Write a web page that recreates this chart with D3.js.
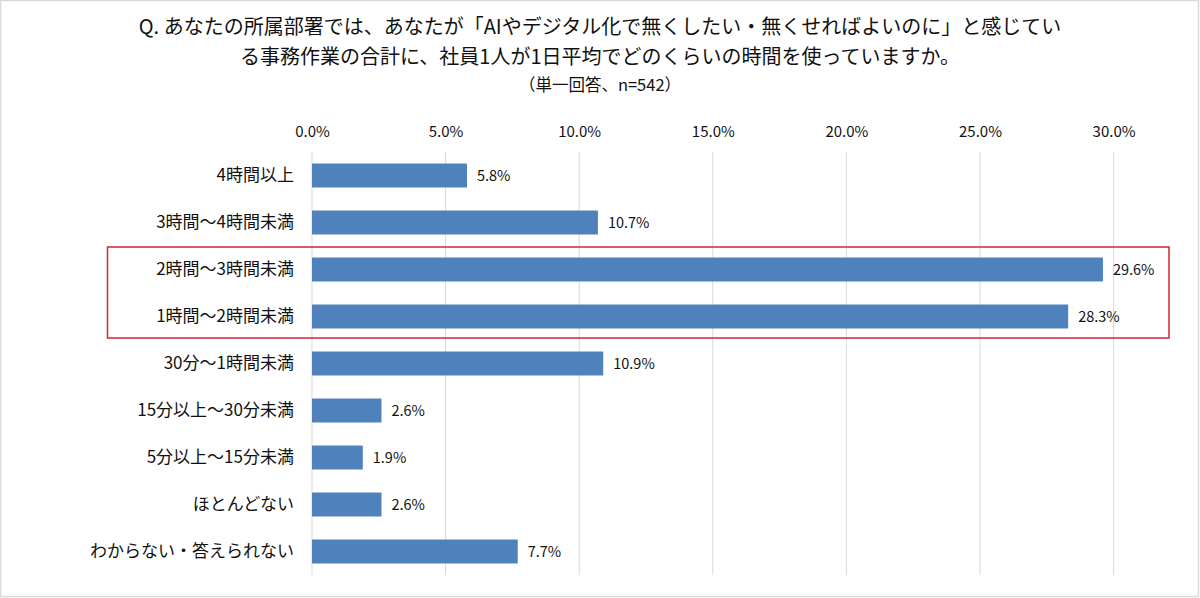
<!DOCTYPE html>
<html><head><meta charset="utf-8">
<script src="https://cdn.jsdelivr.net/npm/d3@7"></script>
<style>
html,body{margin:0;padding:0;background:#fff;}
svg{display:block;font-family:"Noto Sans CJK JP","Noto Sans",sans-serif;}
</style></head>
<body>
<svg id="c" width="1200" height="598"></svg>
<script>
const categories = ["4時間以上","3時間〜4時間未満","2時間〜3時間未満","1時間〜2時間未満","30分〜1時間未満","15分以上〜30分未満","5分以上〜15分未満","ほとんどない","わからない・答えられない"];
const values = [5.8, 10.7, 29.6, 28.3, 10.9, 2.6, 1.9, 2.6, 7.7];
const ticks = [0, 5, 10, 15, 20, 25, 30];
const titleLines = ["Q. あなたの所属部署では、あなたが「AIやデジタル化で無くしたい・無くせればよいのに」と感じてい","る事務作業の合計に、社員1人が1日平均でどのくらいの時間を使っていますか。"];
const subtitle = "（単一回答、n=542）";
const highlighted = ["2時間〜3時間未満","1時間〜2時間未満"];

const svg = d3.select("#c");
svg.append("rect").attr("x",0.5).attr("y",0.5).attr("width",1198).attr("height",596)
  .attr("fill","#fff").attr("stroke","#d9d9d9").attr("stroke-width",1.5);

const x = d3.scaleLinear().domain([0,30]).range([312,1113.6]);
const y = d3.scaleBand().domain(categories).range([152,575]).paddingInner(0.49).paddingOuter(0.245);

// title
svg.selectAll("text.title").data(titleLines).join("text").attr("class","title")
  .attr("x",600).attr("y",(d,i)=>34+i*30).attr("text-anchor","middle")
  .attr("font-size",20).attr("fill","#111").text(d=>d);
svg.append("text").attr("x",600).attr("y",91).attr("text-anchor","middle")
  .attr("font-size",16.5).attr("fill","#111").text(subtitle);

// gridlines
svg.append("g").selectAll("line").data(ticks).join("line")
  .attr("x1",d=>x(d)).attr("x2",d=>x(d)).attr("y1",152).attr("y2",575)
  .attr("stroke","#d9d9d9").attr("stroke-width",1);

// top axis labels
const ax = d3.axisTop(x).tickValues(ticks).tickFormat(d=>d.toFixed(1)+"%").tickSize(0).tickPadding(0);
const axg = svg.append("g").attr("transform","translate(0,137)").call(ax);
axg.select(".domain").remove();
axg.selectAll("text").attr("font-size",15).attr("fill","#111").attr("font-family","\"Noto Sans CJK JP\",sans-serif");

// category labels
const ay = d3.axisLeft(y).tickSize(0).tickPadding(0);
const ayg = svg.append("g").attr("transform","translate(294,0)").call(ay);
ayg.select(".domain").remove();
ayg.selectAll("text").attr("font-size",17).attr("fill","#111").attr("font-family","\"Noto Sans CJK JP\",sans-serif");

// bars
svg.append("g").selectAll("rect").data(values).join("rect")
  .attr("x",x(0)).attr("y",(d,i)=>y(categories[i]))
  .attr("width",d=>x(d)-x(0)).attr("height",y.bandwidth())
  .attr("fill","#4f81bd");

// value labels
svg.append("g").selectAll("text").data(values).join("text")
  .attr("x",d=>x(d)+10).attr("y",(d,i)=>y(categories[i])+y.bandwidth()/2)
  .attr("dy","0.36em").attr("font-size",14.5).attr("fill","#111")
  .text(d=>d.toFixed(1)+"%");

// highlight box
const hy0 = y(highlighted[0]) - (y.step()-y.bandwidth())/2 + 1;
const hy1 = y(highlighted[1]) + y.bandwidth() + (y.step()-y.bandwidth())/2 - 2;
svg.append("rect").attr("x",107.5).attr("y",hy0).attr("width",1169-107.5).attr("height",hy1-hy0)
  .attr("fill","none").attr("stroke","#d0262c").attr("stroke-width",1.5);
</script>
</body></html>
